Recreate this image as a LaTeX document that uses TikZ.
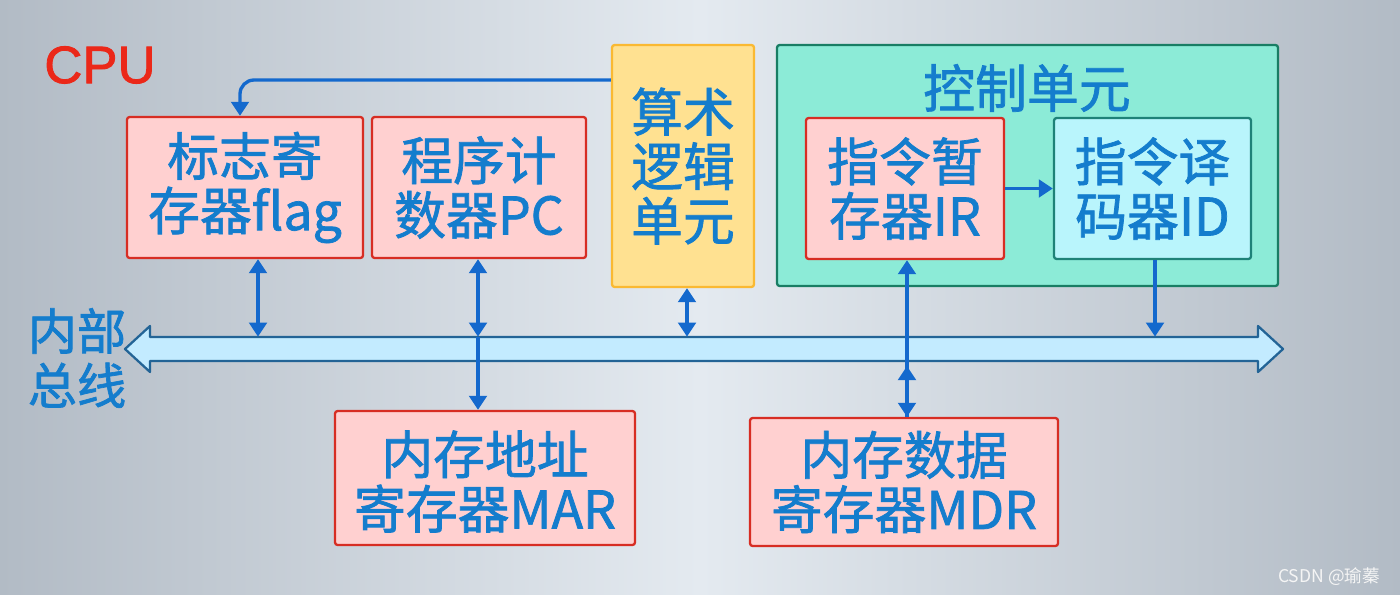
\documentclass[tikz,border=0pt]{standalone}
\usepackage{fontspec}
\setmainfont{Liberation Sans}
\newfontfamily\cjk{Noto Sans CJK SC}[FakeBold=1.4]
\newfontfamily\cjkplain{Noto Sans CJK SC}
\newfontfamily\cpufont{Liberation Sans}[FakeBold=1.6]
\usetikzlibrary{arrows.meta,fit}
\definecolor{bgside}{RGB}{178,187,197}
\definecolor{bgmid}{RGB}{228,234,240}
\definecolor{boxpink}{RGB}{255,208,208}
\definecolor{boxred}{RGB}{215,45,35}
\definecolor{txtblue}{RGB}{20,125,205}
\definecolor{alufill}{RGB}{255,225,145}
\definecolor{aluedge}{RGB}{250,185,50}
\definecolor{cufill}{RGB}{140,235,215}
\definecolor{cuedge}{RGB}{25,125,100}
\definecolor{idfill}{RGB}{185,245,252}
\definecolor{idedge}{RGB}{30,130,120}
\definecolor{busfill}{RGB}{195,235,255}
\definecolor{busedge}{RGB}{35,100,150}
\definecolor{connblue}{RGB}{20,105,205}
\definecolor{cpured}{RGB}{235,40,25}
\begin{document}
\begin{tikzpicture}[x=0.02cm,y=-0.02cm,
  >={Triangle[width=10pt,length=8pt]},
  boxtxt/.style={font=\cjk\fontsize{29.5pt}{31pt}\selectfont, text=txtblue, align=center, inner sep=0pt},
  regbox/.style={draw=boxred, fill=boxpink, line width=1.3pt, rounded corners=1.5pt, inner sep=0pt},
  alubox/.style={draw=aluedge, fill=alufill, line width=1.3pt, rounded corners=1.5pt, inner sep=0pt},
  cubox/.style={draw=cuedge, fill=cufill, line width=1.3pt, rounded corners=1.5pt, inner sep=0pt},
  idbox/.style={draw=idedge, fill=idfill, line width=1.3pt, rounded corners=1.5pt, inner sep=0pt},
  conn/.style={draw=connblue, line width=1.9pt}]
\useasboundingbox (0,0) rectangle (1400,595);
\shade[left color=bgside, right color=bgside, middle color=bgmid] (0,0) rectangle (1400,595);

% CPU label
\node[text=cpured, font=\cpufont\fontsize{30pt}{32pt}\selectfont] (cpu) at (100,65) {CPU};

% top registers
\node[regbox, fit={(127,117) (363,258)}] (flag) {};
\node[boxtxt] (flagtxt) at (flag.center) {标志寄\\存器flag};
\node[regbox, fit={(372,117) (586,258)}] (pc) {};
\node[boxtxt] (pctxt) at (pc.center) {程序计\\数器PC};
\node[alubox, fit={(612,45) (754,287)}] (alu) {};
\node[boxtxt] (alutxt) at (alu.center) {算术\\逻辑\\单元};
\node[cubox, fit={(777,45) (1278,286)}] (cu) {};
\node[boxtxt] (cutitle) at (1027,88) {控制单元};
\node[regbox, fit={(806,118) (1004,259)}] (ir) {};
\node[boxtxt] (irtxt) at (ir.center) {指令暂\\存器IR};
\node[idbox, fit={(1054,118) (1251,259)}] (id) {};
\node[boxtxt] (idtxt) at (id.center) {指令译\\码器ID};

% bottom registers
\node[regbox, fit={(335,411) (635,545)}] (mar) {};
\node[boxtxt] (martxt) at ([yshift=-2pt]mar.center) {内存地址\\寄存器MAR};
\node[regbox, fit={(750,418) (1058,546)}] (mdr) {};
\node[boxtxt] (mdrtxt) at (mdr.center) {内存数据\\寄存器MDR};

% bus
\filldraw[fill=busfill, draw=busedge, line width=1.3pt, line join=round]
  (125,349) -- (150,326) -- (150,337) -- (1258,337) -- (1258,326) -- (1283,349)
  -- (1258,372) -- (1258,361) -- (150,361) -- (150,372) -- cycle;
\node[inner sep=0pt, fit={(150,337) (1258,361)}] (bus) {};
\node[boxtxt, font=\cjk\fontsize{28pt}{31pt}\selectfont] (buslabel) at (77,358) {内部\\总线};

% connector x positions
\coordinate (xf) at (258,0);
\coordinate (xp) at (478,0);
\coordinate (xa) at (687,0);
\coordinate (xi) at (907,0);
\coordinate (xd) at (1155,0);
\coordinate (bend) at (240,80);
\coordinate (mdrup) at (907,366);

% connectors
\draw[conn,->,rounded corners=8pt] (alu.west |- bend) -- (bend) -- (bend |- flag.north);
\draw[conn,<->] (xf |- flag.south) -- (xf |- bus.north);
\draw[conn,<->] (xp |- pc.south) -- (xp |- bus.north);
\draw[conn,->] (xp |- bus.north) -- (xp |- mar.north);
\draw[conn,<->] (xa |- alu.south) -- (xa |- bus.north);
\draw[conn,->] (ir.east) -- (id.west);
\draw[conn,<->] (xi |- ir.south) -- (xi |- mdr.north);
\draw[conn,->] (xi |- mdr.north) -- (mdrup);
\draw[conn,->] (xd |- id.south) -- (xd |- bus.north);

% watermark
\node[text=white!92!gray, font=\cjkplain\fontsize{10pt}{12pt}\selectfont, anchor=east] (wm) at (1386,577) {CSDN @瑜蓁};
\end{tikzpicture}
\end{document}
